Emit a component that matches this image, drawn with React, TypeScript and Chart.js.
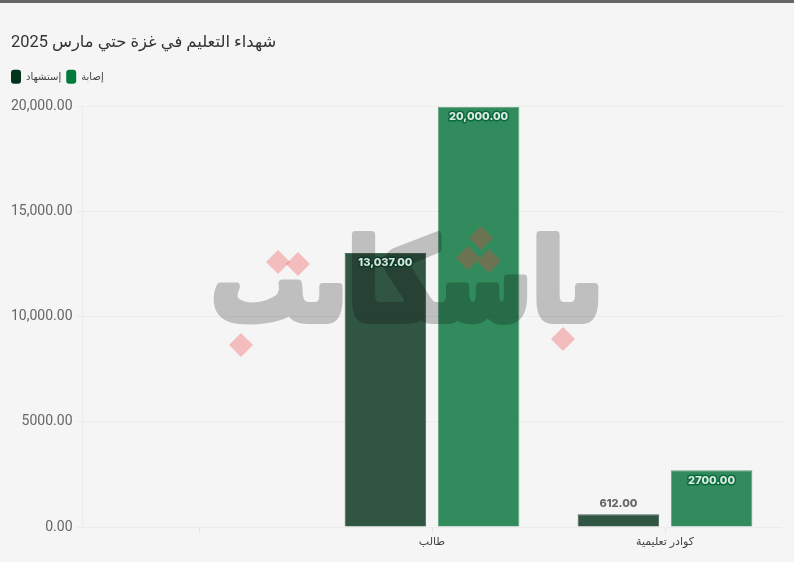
import React, { useEffect, useRef } from "react";
import { Chart, registerables, Plugin } from "chart.js";

Chart.register(...registerables);

const titleText = "شهداء التعليم في غزة حتي مارس 2025";
const categories = ["", "طالب", "كوادر تعليمية"];
const seriesNames = ["إستشهاد", "إصابة"];
const killed = [null, 13037, 612];
const injured = [null, 20000, 2700];
const killedLabels = ["", "13,037.00", "612.00"];
const injuredLabels = ["", "20,000.00", "2700.00"];
const yTicks: Record<number, string> = {
  0: "0.00",
  5000: "5000.00",
  10000: "10,000.00",
  15000: "15,000.00",
  20000: "20,000.00",
};

// watermark, dots are drawn apart as red diamonds
const markText = "ٮاسكاٮٮ";
const markDots = [
  [278, 262],
  [298, 264],
  [241, 345],
  [481, 238],
  [468, 258],
  [489, 261],
  [563, 339],
];

const legendTweak: Plugin = {
  id: "legendTweak",
  beforeInit(chart) {
    const legend: any = chart.legend;
    const fit = legend.fit;
    legend.fit = function () {
      fit.call(legend);
      legend.height += 13;
    };
  },
  beforeDraw(chart) {
    // legend padding also pushes the first item in, pull it back to the title edge
    (chart.legend as any).left = 6;
  },
};

const watermark: Plugin = {
  id: "watermark",
  afterDatasetsDraw(chart) {
    const ctx = chart.ctx;
    // glyphs overlap at the joins, so paint opaque first and fade as one piece
    const off = document.createElement("canvas");
    off.width = 794;
    off.height = 562;
    const o = off.getContext("2d")!;
    o.font = "bold 100px 'DejaVu Sans'";
    o.direction = "rtl";
    o.textAlign = "center";
    o.textBaseline = "alphabetic";
    const m = o.measureText(markText);
    o.translate(407, 320);
    o.scale(392 / m.width, 1.12);
    o.fillStyle = "#000";
    o.strokeStyle = "#000";
    o.lineWidth = 7;
    o.lineJoin = "round";
    o.strokeText(markText, 0, 0);
    o.fillText(markText, 0, 0);

    ctx.save();
    ctx.globalAlpha = 0.22;
    ctx.drawImage(off, 0, 0);
    ctx.globalAlpha = 1;
    ctx.fillStyle = "rgba(240,60,60,0.3)";
    markDots.forEach(([x, y]) => {
      ctx.beginPath();
      ctx.moveTo(x, y - 12);
      ctx.lineTo(x + 12, y);
      ctx.lineTo(x, y + 12);
      ctx.lineTo(x - 12, y);
      ctx.closePath();
      ctx.fill();
    });
    ctx.restore();
  },
};

const barLabels: Plugin = {
  id: "barLabels",
  afterDraw(chart) {
    const ctx = chart.ctx;
    const texts = [killedLabels, injuredLabels];
    const outline = ["#0b3d26", "#0a6b3c"];
    ctx.save();
    ctx.font = "800 11px Inter";
    ctx.textAlign = "center";
    ctx.textBaseline = "middle";
    chart.data.datasets.forEach((_, d) => {
      chart.getDatasetMeta(d).data.forEach((bar: any, i) => {
        const label = texts[d][i];
        if (!label) return;
        const tall = bar.height > 30;
        const y = tall ? bar.y + 10 : bar.y - 10;
        if (tall) {
          ctx.lineWidth = 3;
          ctx.lineJoin = "round";
          ctx.strokeStyle = outline[d];
          ctx.strokeText(label, bar.x, y);
          ctx.fillStyle = "rgba(255,255,255,0.85)";
        } else {
          ctx.fillStyle = "#666666";
        }
        ctx.fillText(label, bar.x, y);
      });
    });
    ctx.restore();
  },
};

const App = () => {
  const ref = useRef<HTMLCanvasElement>(null);

  useEffect(() => {
    document.body.style.margin = "0";
    if (!ref.current) return;
    const chart = new Chart(ref.current, {
      type: "bar",
      data: {
        labels: categories,
        datasets: [
          {
            label: seriesNames[0],
            data: killed,
            backgroundColor: "rgba(0,45,22,0.8)",
            borderColor: "rgba(0,45,22,0.7)",
            borderWidth: 1,
          },
          {
            label: seriesNames[1],
            data: injured,
            backgroundColor: "rgba(0,113,54,0.8)",
            borderColor: "rgba(0,113,54,0.6)",
            borderWidth: 1,
          },
        ],
      },
      options: {
        responsive: false,
        animation: false,
        layout: { padding: { left: 11, right: 12.5, top: 0, bottom: 0 } },
        datasets: { bar: { categoryPercentage: 0.8, barPercentage: 0.875 } },
        plugins: {
          tooltip: { enabled: false },
          title: {
            display: true,
            text: titleText,
            align: "start",
            color: "#333333",
            font: { family: "Roboto, 'Noto Sans', 'DejaVu Sans'", size: 16.4, weight: "normal" },
            padding: { top: 33, bottom: 12 },
          },
          legend: {
            position: "top",
            align: "start",
            labels: {
              boxWidth: 10,
              boxHeight: 14,
              useBorderRadius: true,
              borderRadius: 3,
              padding: 5,
              color: "#444444",
              font: { family: "'Noto Sans', 'DejaVu Sans'", size: 10 },
              generateLabels: () => [
                { text: seriesNames[0], fillStyle: "#00331a", strokeStyle: "#00331a", fontColor: "#444444", lineWidth: 0, borderRadius: 3, datasetIndex: 0 } as any,
                { text: seriesNames[1], fillStyle: "#007a3d", strokeStyle: "#007a3d", fontColor: "#444444", lineWidth: 0, borderRadius: 3, datasetIndex: 1 } as any,
              ],
            },
          },
        },
        scales: {
          x: {
            grid: { offset: false, drawOnChartArea: false, color: "#e6e6e6", tickLength: 6 },
            border: { color: "#ececec" },
            ticks: {
              color: "#444444",
              padding: 2,
              maxRotation: 0,
              autoSkip: false,
              font: { family: "'Noto Sans', 'DejaVu Sans'", size: 11 },
            },
            afterFit: (s: any) => {
              s.height = 35;
            },
          },
          y: {
            min: 0,
            max: 20000,
            grid: { color: "#ececec", tickLength: 6 },
            border: { color: "#ececec" },
            ticks: {
              stepSize: 5000,
              color: "#666666",
              padding: 4,
              font: { family: "Roboto", size: 14 },
              callback: (v) => yTicks[Number(v)],
            },
            afterFit: (s: any) => {
              s.width = 71.5;
            },
          },
        },
      },
      plugins: [legendTweak, watermark, barLabels],
    });
    return () => chart.destroy();
  }, []);

  return (
    <div style={{ position: "relative", width: 794, height: 562, background: "#f5f5f5", overflow: "hidden" }}>
      <div style={{ position: "absolute", left: 0, top: 0, width: 794, height: 3, background: "#666666" }} />
      <canvas ref={ref} width={794} height={562} style={{ display: "block" }} />
    </div>
  );
};

export default App;
